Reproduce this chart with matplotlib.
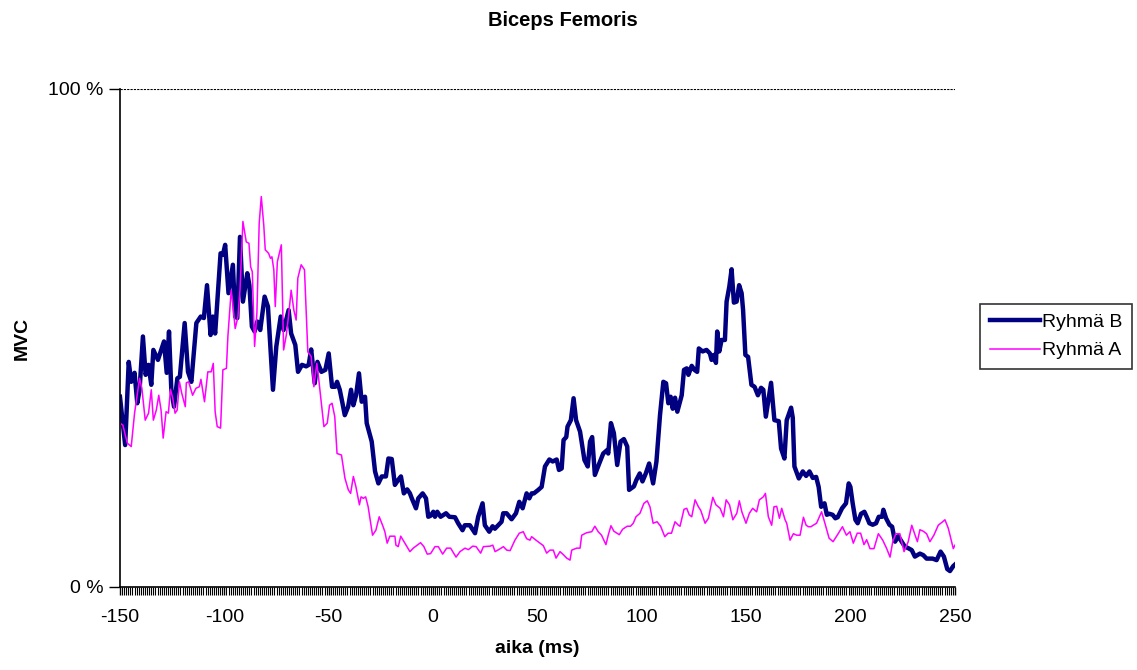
import matplotlib
matplotlib.use("Agg")
import matplotlib.pyplot as plt
from matplotlib.ticker import MultipleLocator, FixedLocator

# Ryhmä B (ms, % MVC)
t_b = [-150, -147.5, -145.8, -144.6, -143, -141.7, -140.6, -139, -137.7, -136.3,
       -135, -134, -131.8, -128.9, -127.6, -126.5, -125.4, -124.1, -122.5, -121.3,
       -119, -117.4, -115.8, -113.4, -111.3, -109.8, -108.3, -106.6, -105.5, -104.4,
       -101.8, -100.7, -99.6, -98, -95.9, -94.8, -93.8, -92.5, -91.1, -89,
       -88, -86.8, -85.5, -84.2, -82.8, -80.7, -79.1, -76.7, -75.1, -73,
       -71.6, -69.2, -68, -66, -64.7, -62.8, -60.8, -59.6, -58.4, -56.7,
       -55.4, -53.5, -51.6, -50, -48.4, -46.9, -46, -44.7, -43.4, -42.3,
       -40.7, -39.3, -38.2, -36.9, -35.5, -34.2, -32.6, -31.8, -29.4, -27.8,
       -26.2, -24.6, -22.6, -21.4, -19.8, -18.3, -16.7, -15.4, -14, -12.4,
       -11.1, -10.2, -8.2, -7.1, -5, -3.4, -2.3, -1.2, 0.1, 0.9,
       2, 3.6, 6.2, 7.8, 10.5, 12, 14.1, 15.2, 17.6, 20.1,
       21.6, 23.7, 24.8, 26.9, 28.5, 29.6, 31.2, 32.8, 33.6, 35.2,
       37.6, 39.7, 41.3, 42.9, 44.8, 46.1, 47.2, 48.3, 50.4, 52,
       53.6, 55.7, 57.3, 59.2, 60.3, 61.6, 62.5, 63.8, 64.4, 66,
       67.3, 68.5, 70.4, 72.5, 74.1, 75.2, 76.2, 77.5, 79.6, 81.5,
       83.4, 83.9, 85.2, 86.6, 88.2, 89.8, 91.4, 93, 93.9, 96.2,
       97.4, 99, 100.3, 101.9, 103.5, 105.4, 107, 108.7, 110.3, 111.6,
       112.7, 113.8, 114.8, 115.9, 117, 119.1, 120.2, 121.5, 122.3, 123.9,
       125.2, 126.5, 127.3, 129.1, 131, 132.6, 133.4, 134.5, 135.5, 136.1,
       137.1, 138.2, 139.8, 140.6, 141.9, 143, 144.1, 145.4, 146.6, 147.8,
       148.5, 149.6, 150.9, 152.5, 154, 155.6, 157.1, 158.2, 159.4, 161.9,
       163.5, 165.6, 166.7, 168.3, 169.4, 171.5, 172.3, 173.1, 175.2, 177.1,
       178.7, 180.3, 181.9, 183.5, 184.7, 185.9, 187.5, 188.6, 189.8, 191.4,
       192.7, 193.8, 195.9, 197.8, 199.1, 199.9, 201, 202.3, 203.4, 205,
       206.6, 207.7, 209, 210.6, 212.2, 213.5, 215.1, 215.7, 217, 218.6,
       219.9, 221.3, 222.8, 224.5, 226, 227.6, 229.3, 230.8, 233.2, 234.8,
       236.4, 239.3, 241.2, 243.1, 244.7, 246.3, 247.6, 249.2, 250]
v_b = [38.2, 28.5, 45.2, 41.2, 43, 36.9, 39.6, 50.3, 42.6, 44.6,
       40.6, 47.6, 45.6, 49.3, 43, 51.3, 39.6, 36.2, 41.9, 42.2,
       53, 43.2, 41.2, 53, 54.3, 54, 60.6, 50.6, 54.3, 50.9,
       67, 66.7, 68.7, 59, 64.7, 54.3, 54, 70.3, 57.3, 63,
       60.6, 52.3, 51.3, 53.3, 51.6, 58.3, 56.3, 39.6, 48.3, 54.3,
       51.6, 55.6, 50.9, 48.6, 43.2, 44.6, 44.3, 44.6, 47.7, 40.9,
       45.2, 43.2, 43.6, 46.9, 40.2, 40.2, 41.2, 39.6, 36.9, 34.5,
       36.2, 39.6, 36.5, 38.5, 42.9, 37.2, 38.2, 32.9, 29.2, 23.2,
       20.8, 22.2, 22.2, 25.8, 25.7, 20.5, 21.5, 22.2, 18.8, 19.6,
       18.8, 17.8, 15.8, 17.8, 18.8, 17.8, 14.1, 14.3, 15.1, 14.1,
       15.1, 14.1, 14.8, 14.1, 14, 12.8, 11.4, 12.4, 12.4, 10.8,
       14.1, 16.8, 12.4, 11.1, 12.2, 11.7, 12.4, 13.1, 14.8, 14.8,
       13.6, 14.8, 17.1, 15.8, 18.8, 17.8, 18.8, 18.8, 19.5, 20.1,
       24.2, 25.6, 25.2, 25.6, 23.5, 23.8, 29.5, 30.1, 32.2, 33.5,
       37.9, 33.5, 31.2, 25.5, 24.2, 29.2, 30.1, 22.5, 24.8, 26.8,
       27.5, 26.8, 32.9, 30.9, 24.5, 29.2, 29.7, 28.2, 19.5, 20.2,
       21.5, 22.8, 21.2, 22.8, 24.8, 20.8, 25.2, 34.5, 41.2, 40.9,
       36.9, 38.2, 35.8, 38, 35.2, 38.5, 43.6, 43.9, 42.6, 44.4,
       43.6, 43.2, 47.9, 47.3, 47.6, 46.9, 45.6, 46.6, 45, 51.3,
       47.3, 49.6, 49.6, 57.3, 60.3, 63.8, 57.1, 57.3, 60.6, 59,
       55.6, 46.6, 46.2, 40.6, 40.2, 38.5, 40, 39.6, 34.2, 41,
       33.5, 33.3, 27.8, 25.8, 33.5, 36, 34, 24.2, 21.8, 23.2,
       22.3, 23.2, 21.9, 22.1, 20.1, 16.1, 16.8, 14.5, 14.7, 14.5,
       13.8, 14, 15.8, 16.8, 20.8, 20.1, 16.8, 13.5, 12.8, 14.7,
       15.1, 14.1, 12.8, 12.5, 12.8, 14.1, 14.1, 15.5, 13.8, 12.5,
       12.1, 9.1, 10.2, 9.1, 8.1, 7.8, 7.4, 6.1, 6.7, 6.4,
       5.7, 5.7, 5.4, 7.1, 6.1, 3.6, 3.2, 4.2, 4.5]

# Ryhmä A (ms, % MVC)
t_a = [-150, -148.6, -146.5, -144.6, -143, -140.6, -139.5, -137.9, -136.3, -135,
       -134, -132.6, -131.4, -130.3, -129.3, -127.9, -126.8, -125.8, -124.7, -123.6,
       -122.6, -121.5, -120.4, -118.7, -118.2, -117.1, -115.2, -113.6, -112, -111.2,
       -109.5, -107.9, -106.3, -105.3, -104.4, -103.4, -101.8, -100.7, -99, -98.3,
       -96.7, -95.9, -94.8, -93.5, -92.5, -91.1, -89.5, -88.2, -87.4, -86.6,
       -85.5, -84.4, -83.3, -82.3, -81.1, -80.4, -78.8, -77.9, -77.2, -76.3,
       -75.6, -74.6, -72.7, -71.6, -70.3, -69.2, -68, -66.7, -65.6, -64.8,
       -63.2, -61.6, -60, -58.4, -57.1, -55.7, -54.9, -53.5, -52.3, -50.7,
       -49.6, -48.4, -47.1, -46, -43.9, -42.2, -40.6, -39.5, -38.2, -37,
       -35.3, -34.5, -33.4, -32.3, -31.1, -29, -27.4, -25.8, -24.2, -23.1,
       -22, -20.7, -18.3, -17.8, -16.7, -15.5, -13.5, -11.1, -9.5, -7.6,
       -6, -4.4, -2.8, -1.2, 0.9, 2.5, 4.6, 6.5, 8.4, 11,
       12.9, 15.3, 16.9, 19, 20.6, 22.8, 24.1, 27.3, 28.6, 29.7,
       31.8, 33.7, 35.3, 36.9, 39.2, 41.3, 43.2, 44.8, 46.4, 47.2,
       49.3, 51.2, 52.8, 54.4, 56, 57.6, 58.9, 60.8, 62.4, 64,
       65.6, 66.4, 68.8, 70.4, 71.2, 73.6, 76, 77.5, 79.1, 80.7,
       82.8, 83.9, 85.2, 86.6, 89.2, 90.8, 93, 94.6, 95.9, 97.2,
       99.1, 101, 102.6, 103.9, 105.4, 107.3, 109, 111, 112.6, 114.2,
       115.9, 117.5, 118.3, 120.2, 121.5, 122.7, 123.9, 125.5, 127.1, 128.2,
       130.3, 131.9, 134, 135.5, 137.5, 139.1, 140.4, 142, 143.6, 145.5,
       146.7, 147.9, 149.9, 151.5, 153.1, 155, 156.3, 158.2, 159.2, 160.6,
       162.2, 163.3, 164.6, 165.9, 167, 168.6, 169.4, 171, 172.6, 174.2,
       175.8, 177.4, 178.7, 179.8, 181, 182.1, 183.7, 186.1, 187.7, 189.7,
       191.6, 193.6, 196.1, 198, 199.7, 201.3, 203.2, 204.8, 206.4, 207.7,
       209.3, 211.2, 213.3, 215.4, 217.3, 218.9, 220.2, 221.7, 223.6, 225.6,
       227.6, 229.3, 230.9, 232, 233.2, 234.8, 236.4, 238, 239.9, 242,
       244.1, 245.2, 246.8, 248.4, 249.2, 250]
v_a = [32.9, 32.5, 28.9, 28.2, 34.9, 41.9, 39.9, 33.5, 34.9, 39.6,
       33.5, 35.5, 38.5, 35.5, 29.9, 35.2, 34.9, 39.7, 37.9, 34.9,
       35.5, 41.2, 38.9, 36.2, 41, 41.2, 38.5, 39.9, 40.2, 41.7,
       37.2, 43.2, 43.2, 44.9, 35.2, 32.2, 31.9, 43.6, 43.9, 50.3,
       59.6, 56.6, 51.9, 54.2, 59.6, 73.4, 69.3, 69, 64.3, 63.3,
       48.3, 55, 73, 78.4, 72.6, 67.7, 67, 66, 66.3, 63.7,
       56.3, 65.3, 68.7, 47.6, 50.6, 54.6, 59.6, 55.6, 53.6, 62,
       64.7, 63.7, 47.2, 46.3, 40.2, 44.9, 42.2, 36.9, 32.2, 32.9,
       36.5, 36.9, 34.2, 26.8, 26.5, 21.8, 19.5, 18.8, 22.2, 20.2,
       16.5, 18.1, 17.8, 18.1, 16.1, 10.4, 11.4, 14.1, 12.4, 11.1,
       8.8, 10.2, 10.2, 8.4, 8.1, 10.2, 8.8, 7.1, 7.8, 8.4,
       8.9, 8.1, 6.6, 6.7, 8.1, 8.1, 6.6, 7.8, 7.8, 6,
       7.1, 7.8, 7.5, 8.2, 8.1, 6.8, 8.1, 8.2, 8.4, 7.1,
       7.6, 8.1, 7.4, 7.3, 9.4, 10.8, 11.1, 9.7, 9.4, 10.1,
       9.4, 8.8, 8.3, 6.8, 7.4, 7.4, 5.8, 7.1, 6.5, 5.8,
       5.4, 7.4, 7.8, 7.8, 10.4, 10.9, 11.1, 12.2, 11.1, 10.4,
       8.5, 10.4, 12.3, 11.2, 10.5, 11.6, 12.2, 12.2, 12.8, 14.1,
       14.8, 16.8, 17.3, 16.1, 12.8, 13.1, 12.2, 10.1, 10.8, 10.8,
       13.1, 12.4, 12.2, 15.6, 15.8, 14.5, 14.1, 17.5, 16.1, 15.4,
       12.8, 13.8, 18, 16.5, 15.8, 14.1, 17.5, 16.5, 13.5, 14.8,
       17.3, 15.1, 12.8, 14.8, 15.8, 15.1, 17.5, 18.1, 18.8, 14.1,
       12.4, 16.1, 16.2, 13.8, 15.8, 13.5, 12.8, 9.4, 10.7, 10.4,
       10.4, 14, 12.4, 12.1, 12.1, 12.4, 12.8, 15.1, 12.8, 9.8,
       9.1, 10.4, 12.1, 10.4, 11.1, 8.8, 10.8, 10.8, 8.5, 9.5,
       7.7, 7.7, 10.7, 9.4, 7.7, 6, 9.1, 10.7, 10.7, 7.1,
       9.1, 12.4, 10.4, 9.1, 11.5, 11.2, 10.7, 9.1, 10.4, 12.4,
       13.1, 13.5, 11.8, 9.1, 7.7, 8.4]

x_ticks = [-150, -100, -50, 0, 50, 100, 150, 200, 250]
y_ticks = [0, 100]
y_labels = ["0 %", "100 %"]

plt.rcParams["font.family"] = ["Liberation Sans", "DejaVu Sans"]
plt.rcParams["axes.unicode_minus"] = False

fig = plt.figure(figsize=(11.37, 6.70), dpi=100)
ax = fig.add_axes([0.1055, 0.1239, 0.7344, 0.7433])

ax.plot(t_b, v_b, color="#000080", lw=3.2, label="Ryhmä B", solid_joinstyle="round")
ax.plot(t_a, v_a, color="#FF00FF", lw=1.1, label="Ryhmä A")

ax.set_xlim(-150, 250)
ax.set_ylim(0, 100)

ax.xaxis.set_major_locator(FixedLocator(x_ticks))
ax.xaxis.set_minor_locator(MultipleLocator(1))
ax.tick_params(axis="x", which="major", length=6, width=1, labelsize=14, pad=10)
ax.tick_params(axis="x", which="minor", length=6, width=0.8)

ax.set_yticks(y_ticks)
ax.set_yticklabels(y_labels)
ax.tick_params(axis="y", length=8, width=1, labelsize=14, pad=4)

ax.axhline(100, color="black", lw=0.8, ls=(0, (2, 1)))

for s in ["top", "right"]:
    ax.spines[s].set_visible(False)
ax.spines["left"].set_linewidth(1.2)
ax.spines["bottom"].set_linewidth(1.2)

ax.set_xlabel("aika (ms)", fontsize=14, fontweight="bold", labelpad=10)
fig.text(22 / 1137, 1 - 338 / 670, "MVC", rotation=90, ha="center", va="center",
         fontsize=14, fontweight="bold")

fig.text(0.495, 0.97, "Biceps Femoris", ha="center", va="center",
         fontsize=14.5, fontweight="bold")

leg = ax.legend(loc="center left", bbox_to_anchor=(1.03, 0.503), fontsize=14,
                frameon=True, fancybox=False, edgecolor="black",
                handlelength=2.6, handletextpad=0.1, borderpad=0.5,
                borderaxespad=0, labelspacing=0.55)
leg.get_frame().set_linewidth(1.2)

fig.savefig("out.png", dpi=100)
